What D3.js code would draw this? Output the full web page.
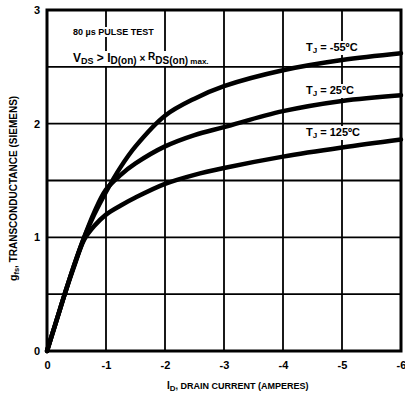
<!DOCTYPE html>
<html><head><meta charset="utf-8">
<script src="https://cdn.jsdelivr.net/npm/d3@7"></script>
<style>body{margin:0;background:#fff}svg{display:block}</style>
</head><body>
<script>
// Drain current (A) and transconductance (S) per junction temperature
const drainCurrent = [0, -0.15, -0.3, -0.45, -0.63, -0.8, -1.0, -1.25, -1.5, -2, -2.5, -3, -4, -5, -6];
const gfsMinus55 = [0, 0.25, 0.5, 0.74, 1.0, 1.2, 1.40, 1.62, 1.80, 2.07, 2.22, 2.33, 2.47, 2.56, 2.62];
const gfs25      = [0, 0.25, 0.5, 0.74, 1.0, 1.22, 1.42, 1.55, 1.65, 1.80, 1.90, 1.97, 2.11, 2.20, 2.25];
const gfs125     = [0, 0.25, 0.5, 0.73, 0.98, 1.1, 1.2, 1.28, 1.35, 1.47, 1.55, 1.61, 1.71, 1.79, 1.86];
const seriesLabels = ["-55ºC", "25ºC", "125ºC"];
const xTicks = [0, -1, -2, -3, -4, -5, -6];
const yGrid = [0, 0.5, 1, 1.5, 2, 2.5, 3];
const yTickLabels = [0, 1, 2, 3];

const W = 405, H = 395;
const svg = d3.select("body").append("svg").attr("width", W).attr("height", H);
const x = d3.scaleLinear().domain([0, -6]).range([47, 401]);
const y = d3.scaleLinear().domain([0, 3]).range([351, 10]);
const font = "'Liberation Sans', Arial, sans-serif";

// grid
const g = svg.append("g");
g.selectAll("line.v").data(xTicks).join("line")
  .attr("x1", d => x(d)).attr("x2", d => x(d)).attr("y1", y(0)).attr("y2", y(3))
  .attr("stroke", "#000").attr("stroke-width", 1.8);
g.selectAll("line.h").data(yGrid).join("line")
  .attr("x1", x(0)).attr("x2", x(-6)).attr("y1", d => y(d)).attr("y2", d => y(d))
  .attr("stroke", "#000").attr("stroke-width", 1.8);
// frame
svg.append("rect").attr("x", x(0)).attr("y", y(3)).attr("width", x(-6) - x(0)).attr("height", y(0) - y(3))
  .attr("fill", "none").attr("stroke", "#000").attr("stroke-width", 3);

// annotation backgrounds & texts
function label(px, py, txt, bg) {
  const t = svg.append("text").attr("x", px).attr("y", py).attr("font-family", font)
    .attr("font-weight", "bold").attr("fill", "#000");
  txt(t);
  if (bg) {
    const b = t.node().getBBox();
    svg.insert("rect", "text").attr("x", b.x - 2).attr("y", b.y).attr("width", b.width + 4).attr("height", b.height)
      .attr("fill", "#fff");
  }
  return t;
}
label(73, 35, t => t.text("80 µs PULSE TEST").attr("font-size", 9), true);
label(73, 62, t => {
  t.append("tspan").text("V").attr("font-size", 12);
  t.append("tspan").text("DS").attr("font-size", 9).attr("dy", 2);
  t.append("tspan").text(" > ").attr("font-size", 12).attr("dy", -2);
  t.append("tspan").text("I").attr("font-size", 12);
  t.append("tspan").text("D(on)").attr("font-size", 10).attr("dy", 2);
  t.append("tspan").text(" × ").attr("font-size", 10).attr("dy", -2);
  t.append("tspan").text("R").attr("font-size", 10).attr("dy", -2);
  t.append("tspan").text("DS(on)").attr("font-size", 10).attr("dy", 4);
  t.append("tspan").text(" max.").attr("font-size", 8);
}, true);

const labelY = [51, 94, 136];
seriesLabels.forEach((s, i) => {
  label(306, labelY[i], t => {
    t.append("tspan").text("T").attr("font-size", 11);
    t.append("tspan").text("J").attr("font-size", 8).attr("dy", 2);
    t.append("tspan").text(" = " + s).attr("font-size", 11).attr("dy", -2);
  }, true);
});

// curves
const line = d3.line().x(d => x(d[0])).y(d => y(d[1])).curve(d3.curveCatmullRom.alpha(0.5));
[gfsMinus55, gfs25, gfs125].forEach(vals => {
  svg.append("path").datum(drainCurrent.map((c, i) => [c, vals[i]]))
    .attr("d", line).attr("fill", "none").attr("stroke", "#000").attr("stroke-width", 4.5)
    .attr("stroke-linecap", "round").attr("stroke-linejoin", "round");
});

// axes tick labels
const xAxis = d3.axisBottom(x).tickValues(xTicks).tickSize(0).tickPadding(10)
  .tickFormat(d => d === 0 ? "0" : "-" + Math.abs(d));
const xa = svg.append("g").attr("transform", `translate(0,${y(0)})`).call(xAxis);
const yAxis = d3.axisLeft(y).tickValues(yTickLabels).tickSize(0).tickPadding(7).tickFormat(d3.format("d"));
const ya = svg.append("g").attr("transform", `translate(${x(0)},0)`).call(yAxis);
[xa, ya].forEach(a => {
  a.select(".domain").remove();
  a.selectAll("text").attr("font-family", font).attr("font-weight", "bold").attr("font-size", 11).attr("fill", "#000");
});

// axis titles
const xt = svg.append("text").attr("x", 167).attr("y", 389).attr("font-family", font)
  .attr("font-weight", "bold").attr("font-size", 9).attr("fill", "#000");
xt.append("tspan").text("I").attr("font-size", 10);
xt.append("tspan").text("D").attr("font-size", 8).attr("dy", 2);
xt.append("tspan").text(", DRAIN CURRENT (AMPERES)").attr("dy", -2);

const yt = svg.append("text").attr("transform", "translate(17,281) rotate(-90)").attr("font-family", font)
  .attr("font-weight", "bold").attr("font-size", 10).attr("fill", "#000");
yt.append("tspan").text("g").attr("font-size", 10.5);
yt.append("tspan").text("fs").attr("font-size", 7.5).attr("dy", 2);
yt.append("tspan").text(", TRANSCONDUCTANCE (SIEMENS)").attr("dy", -2);
</script>
</body></html>
